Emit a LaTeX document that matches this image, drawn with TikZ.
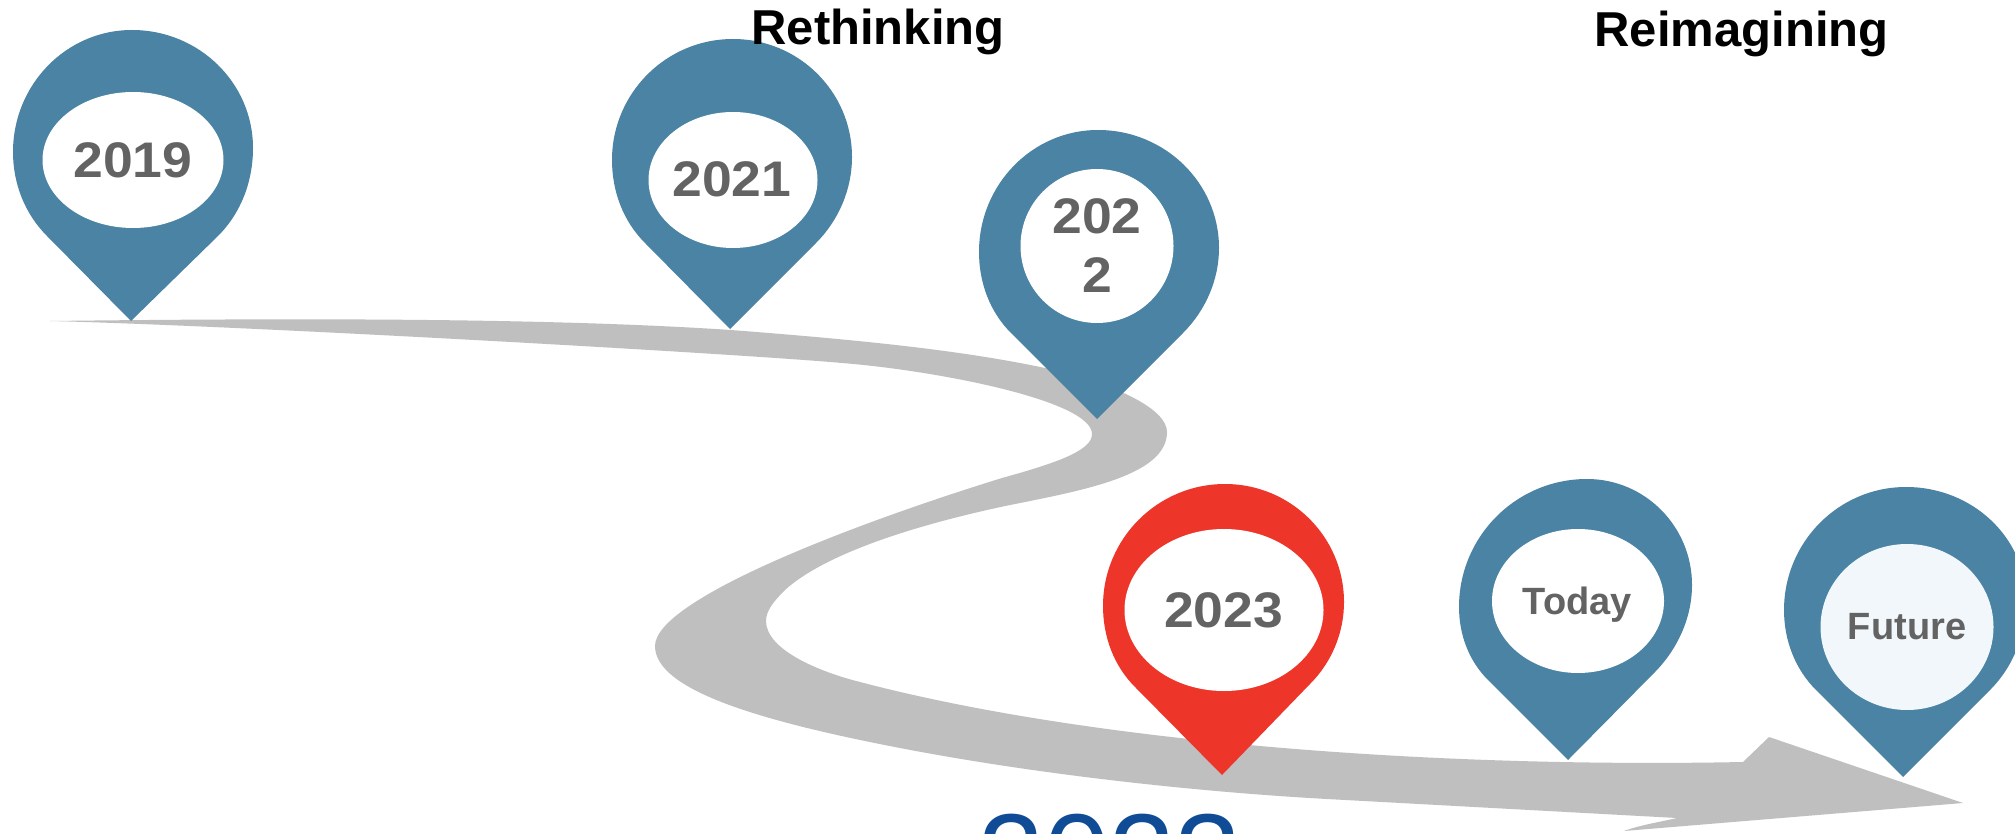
\documentclass[tikz,border=0pt]{standalone}
\usepackage{fontspec}
\setmainfont{Liberation Sans}
\newfontfamily\pinfont[FakeStretch=1.07]{Liberation Sans}
\usetikzlibrary{shapes.geometric}
\definecolor{pinblue}{HTML}{4A83A3}
\definecolor{pinred}{HTML}{EE352A}
\definecolor{ribbon}{HTML}{BFBFBF}
\definecolor{pintext}{HTML}{636363}
\definecolor{navy}{HTML}{104C96}
\definecolor{palefill}{HTML}{F2F7FB}
\newcommand{\pgpx}[1]{\fontsize{#1}{#1}\selectfont}
% args: colour, tip x y, left shoulder x y, left x y, top x y, then right x y, right shoulder x y
\newcommand{\pinshape}[9]{\def\pc{#1}\def\tipx{#2}\def\tipy{#3}\def\slx{#4}\def\sly{#5}\def\Lx{#6}\def\Ly{#7}\def\Tx{#8}\def\Ty{#9}\pinfinish}
\newcommand{\pinfinish}[4]{%
  \pgfmathsetmacro{\dl}{\sly-\Ly}%
  \pgfmathsetmacro{\dr}{#4-#2}%
  \pgfmathsetmacro{\hlx}{0.5523*(\Tx-\Lx)}%
  \pgfmathsetmacro{\hly}{0.5523*(\Ly-\Ty)}%
  \pgfmathsetmacro{\hrx}{0.5523*(#1-\Tx)}%
  \pgfmathsetmacro{\hry}{0.5523*(#2-\Ty)}%
  \fill[\pc] (\tipx,\tipy) -- (\slx,\sly)
    .. controls ({\slx-0.265*\dl},{\sly-0.265*\dl}) and (\Lx,{\Ly+0.375*\dl}) .. (\Lx,\Ly)
    .. controls (\Lx,{\Ly-\hly}) and ({\Tx-\hlx},\Ty) .. (\Tx,\Ty)
    .. controls ({\Tx+\hrx},\Ty) and (#1,{#2-\hry}) .. (#1,#2)
    .. controls (#1,{#2+0.375*\dr}) and ({#3+0.265*\dr},{#4-0.265*\dr}) .. (#3,#4) -- cycle;}
\tikzset{
  face/.style={ellipse,fill=white,inner sep=0pt,outer sep=0pt,minimum width=#1},
  yeartext/.style={text=pintext,font=\pgpx{50}\pinfont\bfseries,anchor=base,inner sep=0pt},
  wordtext/.style={text=pintext,font=\pgpx{38}\bfseries,anchor=base,inner sep=0pt},
  heading/.style={text=black,font=\pgpx{49}\bfseries,anchor=base,inner sep=0pt}
}
\begin{document}
\begin{tikzpicture}[x=1pt,y=-1pt]
\useasboundingbox (0,0) rectangle (2015,834);
\clip (0,0) rectangle (2015,834);
\fill[white] (0,0) rectangle (2015,834);
% ribbon
\fill[ribbon] (50,321) .. controls (300,318) and (550,318) .. (731,330)
  .. controls (860,340) and (960,350) .. (1045,368)
  .. controls (1120,385) and (1167,410) .. (1167,432)
  .. controls (1167,475) and (1085,490) .. (1010,505)
  .. controls (900,528) and (820,558) .. (785,590)
  .. controls (775,600) and (766,610) .. (766,621)
  .. controls (766,650) and (820,672) .. (860,682)
  .. controls (1100,745) and (1450,768) .. (1743,762)
  -- (1769,737) -- (1963,803) -- (1624,831)
  .. controls (1640,825) and (1660,822) .. (1677,818) -- (1327,799)
  .. controls (1200,792) and (1040,775) .. (900,748)
  .. controls (760,721) and (655,690) .. (655,646)
  .. controls (655,600) and (850,525) .. (1002,478)
  .. controls (1060,462) and (1092,450) .. (1092,434)
  .. controls (1092,400) and (932,370) .. (842,363)
  .. controls (742,354) and (250,326) .. (50,321) -- cycle;
% pins
\pinshape{pinblue}{131}{321}{47}{236}{13}{152}{132}{30}{253}{148}{218}{236}
\pinshape{pinblue}{730}{329}{645}{243}{612}{160}{733}{39}{852}{157}{816}{243}
\pinshape{pinblue}{1097}{419}{1011}{333}{979}{252}{1098}{130}{1219}{248}{1183}{333}
\pinshape{pinred}{1222}{775}{1135}{687}{1103}{606}{1225}{484}{1344}{602}{1310}{684}
\pinshape{pinblue}{1568}{760}{1488}{680}{1459}{607}{1587}{479}{1692}{585}{1654}{673}
\pinshape{pinblue}{1903}{777}{1816}{690}{1784}{610}{1906}{487}{2026}{600}{1990}{690}
% faces
\node[face=181pt,minimum height=136pt] (f19) at (133,160) {};
\node[face=169pt,minimum height=136pt] (f21) at (733,180) {};
\node[face=153pt,minimum height=154pt] (f22) at (1097,246) {};
\node[face=199pt,minimum height=162pt] (f23) at (1224,610) {};
\node[face=172pt,minimum height=144pt] (ftoday) at (1578,601) {};
\node[face=173pt,minimum height=166pt,fill=palefill] (ffuture) at (1907,627) {};
% labels
\node[yeartext] (t19) at (133,178) {2019};
\node[yeartext] (t21) at (732,197) {2021};
\node[yeartext] (t22a) at (1097,234) {202};
\node[yeartext] (t22b) at (1097,293) {2};
\node[yeartext] (t23) at (1223.5,627) {2023};
\node[wordtext] (ttoday) at (1577.5,614) {Today};
\node[wordtext] (tfuture) at (1907,639) {Future};
\node[heading] (h1) at (878,45) {Rethinking};
\node[heading] (h2) at (1741.5,47) {Reimagining};
\node[text=navy,font=\pgpx{118},anchor=base,inner sep=0pt] (big) at (1110,896) {2023};
\end{tikzpicture}
\end{document}
